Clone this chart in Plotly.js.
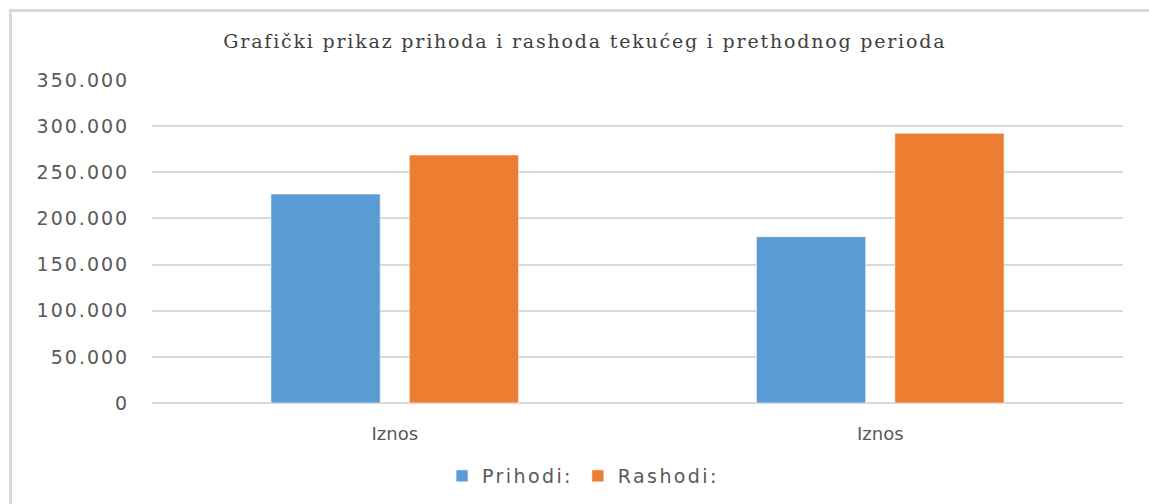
<!DOCTYPE html>
<html>
<head>
<meta charset="utf-8">
<script src="https://cdn.plot.ly/plotly-3.0.1.min.js"></script>
<style>
  html, body { margin: 0; padding: 0; background: #fff; }
  #wrap { position: relative; width: 1149px; height: 504px; overflow: hidden; }
  #frame { position: absolute; left: 9px; top: 9px; width: 1160px; height: 520px;
           border-left: 3px solid #d9d9d9; border-top: 3px solid #d9d9d9; box-sizing: border-box; pointer-events: none; }
  #chart { position: absolute; left: 0; top: 0; width: 1149px; height: 504px; }
  .gtitle { letter-spacing: 1.8px; }
  .ytick text { letter-spacing: 2px; }
  .legendtext { letter-spacing: 2.4px; }
</style>
</head>
<body>
<div id="wrap">
  <div id="chart"></div>
  <div id="frame"></div>
</div>
<script>
const chartTitle = "Grafički prikaz prihoda i rashoda tekućeg i prethodnog perioda";
const categoryLabels = ["Iznos", "Iznos"];
const categoryPositions = [0, 1];
const seriesNames = ["Prihodi:", "Rashodi:"];
const prihodi = [226500, 180200];
const rashodi = [268700, 292200];
const yTickValues = [0, 50000, 100000, 150000, 200000, 250000, 300000, 350000];
const yTickLabels = ["0", "50.000", "100.000", "150.000", "200.000", "250.000", "300.000", "350.000"];

const traces = [
  { type: "bar", name: seriesNames[0], x: categoryPositions, y: prihodi,
    marker: { color: "#5b9bd5", line: { color: "rgba(255,255,255,0.6)", width: 1 } }, hoverinfo: "skip" },
  { type: "bar", name: seriesNames[1], x: categoryPositions, y: rashodi,
    marker: { color: "#ed7d31", line: { color: "rgba(255,255,255,0.6)", width: 1 } }, hoverinfo: "skip" }
];

const layout = {
  width: 1149, height: 504,
  margin: { l: 152, r: 26, t: 80, b: 101, autoexpand: false },
  paper_bgcolor: "#ffffff", plot_bgcolor: "#ffffff",
  barmode: "group", bargap: 0.43, bargroupgap: 0.21,
  showlegend: true,
  title: { text: chartTitle, x: 0.509, xanchor: "center", y: 0.917, yanchor: "middle",
           font: { family: "DejaVu Serif", size: 19, color: "#404040" } },
  xaxis: { range: [-0.5, 1.5], tickmode: "array", tickvals: categoryPositions, ticktext: categoryLabels,
           showgrid: false, zeroline: false, showline: false, ticks: "outside", ticklen: 14, tickcolor: "rgba(0,0,0,0)",
           fixedrange: true,
           tickfont: { family: "DejaVu Sans", size: 18, color: "#595959" } },
  yaxis: { range: [0, 350000], tickmode: "array", tickvals: yTickValues, ticktext: yTickLabels,
           showgrid: true, gridcolor: "#d9d9d9", gridwidth: 2, zeroline: true, zerolinecolor: "#d9d9d9", zerolinewidth: 2,
           showline: false, ticks: "outside", ticklen: 18, tickcolor: "rgba(0,0,0,0)", fixedrange: true,
           tickfont: { family: "DejaVu Sans", size: 19, color: "#595959" } },
  legend: { orientation: "h", x: 0.2987, xanchor: "left", y: -0.226, yanchor: "middle",
            font: { family: "DejaVu Sans", size: 19, color: "#595959" }, itemwidth: 30, tracegroupgap: 0 }
};

Plotly.newPlot("chart", traces, layout, { displayModeBar: false, staticPlot: true });
</script>
</body>
</html>
